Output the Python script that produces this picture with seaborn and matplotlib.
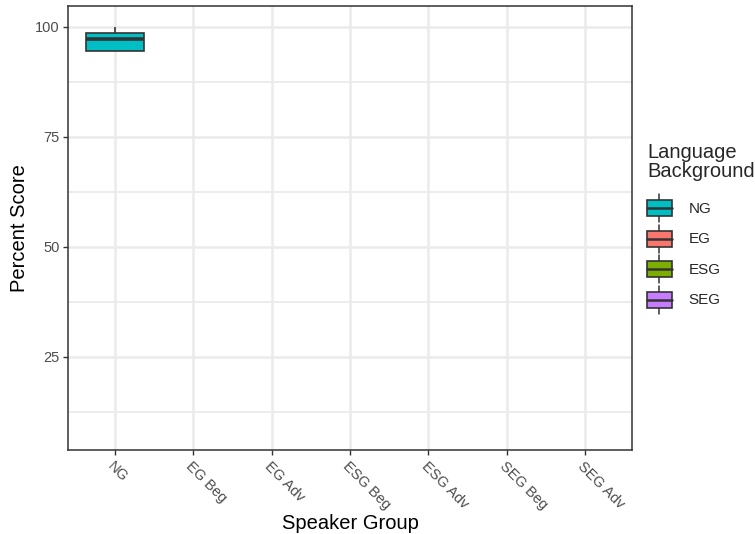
import matplotlib
matplotlib.use("Agg")
import matplotlib.pyplot as plt
from matplotlib.legend_handler import HandlerBase
from matplotlib.patches import Rectangle, Patch
from matplotlib.lines import Line2D
import seaborn as sns
import pandas as pd

# Speaker groups on the x axis
groups = ["NG", "EG Beg", "EG Adv", "ESG Beg", "ESG Adv", "SEG Beg", "SEG Adv"]
# Language backgrounds and their fill colours
languages = ["NG", "EG", "ESG", "SEG"]
colors = ["#00BFC4", "#F8766D", "#7CAE00", "#C77CFF"]
# Percent scores of the native-speaker group
ng_scores = [94.4, 94.4, 97.2, 98.6, 100.0]

df = pd.DataFrame({
    "Speaker Group": ["NG"] * len(ng_scores),
    "Percent Score": ng_scores,
    "Language Background": ["NG"] * len(ng_scores),
})

sns.set_style("white")
plt.rcParams["font.family"] = ["Liberation Sans", "DejaVu Sans"]

fig = plt.figure(figsize=(7.55, 5.34), dpi=100)
ax = fig.add_axes([68 / 755, 84 / 534, 564 / 755, 444 / 534])

edge = "#333333"
grid_c = "#EBEBEB"

# ggplot-style grid: major and minor horizontal lines, vertical at categories
for v in [12.5, 37.5, 62.5, 87.5]:
    ax.axhline(v, color=grid_c, lw=1.3, zorder=0)
for v in [25, 50, 75, 100]:
    ax.axhline(v, color=grid_c, lw=1.8, zorder=0)
for i in range(len(groups)):
    ax.axvline(i, color=grid_c, lw=1.8, zorder=0)

sns.boxplot(
    data=df, x="Speaker Group", y="Percent Score", hue="Language Background",
    order=groups, hue_order=languages, palette=dict(zip(languages, colors)),
    width=0.75, dodge=False, linecolor=edge, linewidth=1.2, saturation=1,
    medianprops={"linewidth": 2.6, "color": edge}, showcaps=False,
    legend=False, ax=ax, fliersize=0,
)

ax.set_xlim(-0.6, len(groups) - 0.4)
ax.set_ylim(3.8, 104.7)
ax.set_yticks([25, 50, 75, 100])
ax.set_xticks(range(len(groups)))
ax.set_xticklabels(groups, rotation=-45, ha="left", va="top",
                   rotation_mode="anchor")

for s in ax.spines.values():
    s.set_color(edge)
    s.set_linewidth(1.1)
    s.set_visible(True)

ax.tick_params(axis="both", which="major", length=3.5, width=1.0, color=edge,
               labelsize=10.5, labelcolor="#4D4D4D", pad=2.5, direction="out",
               bottom=True, left=True)
ax.tick_params(axis="x", pad=3)
ax.set_xlabel("Speaker Group", fontsize=14.5, color="black", labelpad=1)
ax.set_ylabel("Percent Score", fontsize=14.5, color="black", labelpad=4)


class BoxKeyHandler(HandlerBase):
    """Legend key drawn as a small boxplot glyph."""

    def create_artists(self, legend, orig_handle, xdescent, ydescent,
                       width, height, fontsize, trans):
        face = orig_handle.get_facecolor()
        x0 = -xdescent
        y0 = -ydescent
        bx0 = x0
        bw = width
        by0 = y0 + height * 0.215
        bh = height * 0.57
        cx = x0 + width / 2
        rect = Rectangle((bx0, by0), bw, bh, facecolor=face,
                         edgecolor=edge, lw=1.2, transform=trans)
        med = Line2D([bx0, bx0 + bw], [y0 + height / 2] * 2, color=edge,
                     lw=1.8, transform=trans)
        wt = Line2D([cx, cx], [by0 + bh, y0 + height], color=edge, lw=1.1,
                    transform=trans)
        wb = Line2D([cx, cx], [y0, by0], color=edge, lw=1.1, transform=trans)
        return [wt, wb, rect, med]


handles = [Patch(facecolor=c) for c in colors]
leg = fig.legend(handles, languages, title="Language\nBackground",
                 loc="upper left", bbox_to_anchor=(647 / 755, 1 - 143 / 534),
                 frameon=False, fontsize=10.5, title_fontsize=14.5,
                 handler_map={Patch: BoxKeyHandler()},
                 handlelength=1.7, handleheight=2.57, labelspacing=0.18,
                 handletextpad=1.15, borderaxespad=0, borderpad=0)
for t in leg.get_texts():
    t.set_fontsize(11)
leg._legend_box.align = "left"
leg._legend_box.sep = 9.5
leg.get_title().set_linespacing(1.0)

fig.savefig("out.png", dpi=100)
